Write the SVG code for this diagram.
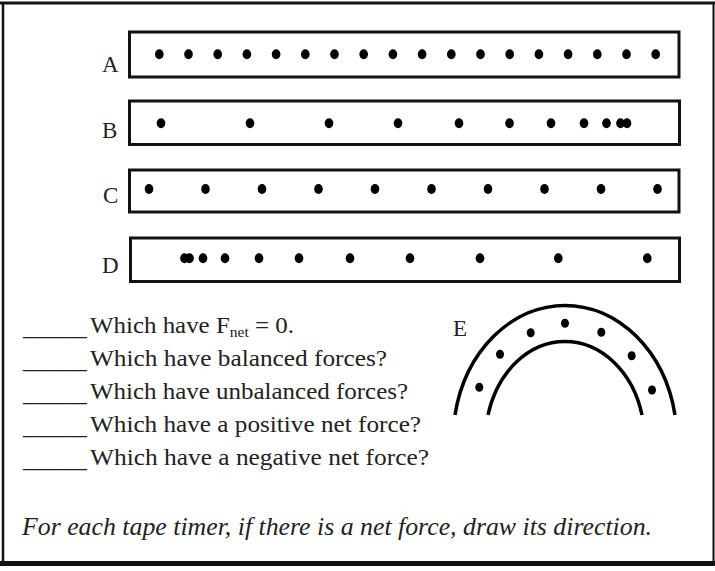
<svg xmlns="http://www.w3.org/2000/svg" width="715" height="571" viewBox="0 0 715 571">
<style>
  .frame { stroke: #111; fill: none; }
  .tape { fill: #fff; stroke: #111; stroke-width: 3; }
  .dot { fill: #000; }
  .lbl { font-family: "Liberation Serif", "Times New Roman", serif; font-size: 23px; fill: #222; }
  .q { font-family: "Liberation Serif", "Times New Roman", serif; font-size: 24px; fill: #222; }
  .note { font-family: "Liberation Serif", "Times New Roman", serif; font-size: 25px; font-style: italic; fill: #222; }
  .arch { fill: none; stroke: #000; stroke-width: 3.5; }
</style>
<rect x="0" y="0" width="715" height="571" fill="#fff"/>
<g id="frame">
  <line class="frame" x1="0" y1="3" x2="715" y2="3" stroke-width="3"/>
  <line class="frame" x1="3" y1="3" x2="3" y2="566" stroke-width="2.5"/>
  <line class="frame" x1="713.5" y1="3" x2="713.5" y2="566" stroke-width="2"/>
  <line class="frame" x1="0" y1="563.5" x2="715" y2="563.5" stroke-width="5"/>
</g>
<g id="tape-A">
  <text class="lbl" x="102" y="72">A</text>
  <rect class="tape" x="129.5" y="32" width="549.5" height="45"/>
  <g class="dot">
    <ellipse cx="159.3" cy="54.3" rx="4.3" ry="5"/><ellipse cx="188.5" cy="54.3" rx="4.3" ry="5"/>
    <ellipse cx="217.7" cy="54.3" rx="4.3" ry="5"/><ellipse cx="246.9" cy="54.3" rx="4.3" ry="5"/>
    <ellipse cx="276.1" cy="54.3" rx="4.3" ry="5"/><ellipse cx="305.3" cy="54.3" rx="4.3" ry="5"/>
    <ellipse cx="334.5" cy="54.3" rx="4.3" ry="5"/><ellipse cx="363.7" cy="54.3" rx="4.3" ry="5"/>
    <ellipse cx="392.9" cy="54.3" rx="4.3" ry="5"/><ellipse cx="422.1" cy="54.3" rx="4.3" ry="5"/>
    <ellipse cx="451.3" cy="54.3" rx="4.3" ry="5"/><ellipse cx="480.5" cy="54.3" rx="4.3" ry="5"/>
    <ellipse cx="509.7" cy="54.3" rx="4.3" ry="5"/><ellipse cx="538.9" cy="54.3" rx="4.3" ry="5"/>
    <ellipse cx="568.1" cy="54.3" rx="4.3" ry="5"/><ellipse cx="597.3" cy="54.3" rx="4.3" ry="5"/>
    <ellipse cx="626.5" cy="54.3" rx="4.3" ry="5"/><ellipse cx="655.7" cy="54.3" rx="4.3" ry="5"/>
  </g>
</g>
<g id="tape-B">
  <text class="lbl" x="102" y="137.5">B</text>
  <rect class="tape" x="129.5" y="101" width="550" height="43.5"/>
  <g class="dot">
    <ellipse cx="161" cy="123.3" rx="4.3" ry="5"/><ellipse cx="250" cy="123.3" rx="4.3" ry="5"/>
    <ellipse cx="329" cy="123.3" rx="4.3" ry="5"/><ellipse cx="398" cy="123.3" rx="4.3" ry="5"/>
    <ellipse cx="459" cy="123.3" rx="4.3" ry="5"/><ellipse cx="509.5" cy="123.3" rx="4.3" ry="5"/>
    <ellipse cx="551" cy="123.3" rx="4.3" ry="5"/><ellipse cx="584" cy="123.3" rx="4.3" ry="5"/>
    <ellipse cx="606.5" cy="123.3" rx="4.3" ry="5"/><ellipse cx="620.5" cy="123.3" rx="4.3" ry="5"/>
    <ellipse cx="627" cy="123.3" rx="4.3" ry="5"/>
  </g>
</g>
<g id="tape-C">
  <text class="lbl" x="103" y="202.5">C</text>
  <rect class="tape" x="129.5" y="170" width="549.5" height="42"/>
  <g class="dot">
    <ellipse cx="149" cy="189" rx="4.3" ry="5"/><ellipse cx="205.5" cy="189" rx="4.3" ry="5"/>
    <ellipse cx="262" cy="189" rx="4.3" ry="5"/><ellipse cx="318.5" cy="189" rx="4.3" ry="5"/>
    <ellipse cx="375" cy="189" rx="4.3" ry="5"/><ellipse cx="431.5" cy="189" rx="4.3" ry="5"/>
    <ellipse cx="488" cy="189" rx="4.3" ry="5"/><ellipse cx="544.5" cy="189" rx="4.3" ry="5"/>
    <ellipse cx="601" cy="189" rx="4.3" ry="5"/><ellipse cx="657.5" cy="189" rx="4.3" ry="5"/>
  </g>
</g>
<g id="tape-D">
  <text class="lbl" x="102" y="272.5">D</text>
  <rect class="tape" x="130.5" y="238" width="549" height="43.5"/>
  <g class="dot">
    <ellipse cx="184.5" cy="258.3" rx="4.3" ry="5"/><ellipse cx="189.5" cy="258.3" rx="4.3" ry="5"/>
    <ellipse cx="203" cy="258.3" rx="4.3" ry="5"/><ellipse cx="225" cy="258.3" rx="4.3" ry="5"/>
    <ellipse cx="259" cy="258.3" rx="4.3" ry="5"/><ellipse cx="299" cy="258.3" rx="4.3" ry="5"/>
    <ellipse cx="350" cy="258.3" rx="4.3" ry="5"/><ellipse cx="410" cy="258.3" rx="4.3" ry="5"/>
    <ellipse cx="480" cy="258.3" rx="4.3" ry="5"/><ellipse cx="558.3" cy="258.3" rx="4.3" ry="5"/>
    <ellipse cx="647.3" cy="258.3" rx="4.3" ry="5"/>
  </g>
</g>
<g id="questions">
  <text class="q" x="23" y="335" textLength="64" lengthAdjust="spacingAndGlyphs">______</text>
  <text class="q" x="90" y="333" textLength="204" lengthAdjust="spacingAndGlyphs">Which have F<tspan font-size="15" dy="4">net</tspan><tspan dy="-4"> = 0.</tspan></text>
  <text class="q" x="23" y="368" textLength="64" lengthAdjust="spacingAndGlyphs">______</text>
  <text class="q" x="90" y="366" textLength="297" lengthAdjust="spacingAndGlyphs">Which have balanced forces?</text>
  <text class="q" x="23" y="401" textLength="64" lengthAdjust="spacingAndGlyphs">______</text>
  <text class="q" x="90" y="399" textLength="318" lengthAdjust="spacingAndGlyphs">Which have unbalanced forces?</text>
  <text class="q" x="23" y="434" textLength="64" lengthAdjust="spacingAndGlyphs">______</text>
  <text class="q" x="90" y="432" textLength="331" lengthAdjust="spacingAndGlyphs">Which have a positive net force?</text>
  <text class="q" x="23" y="467" textLength="64" lengthAdjust="spacingAndGlyphs">______</text>
  <text class="q" x="90" y="465" textLength="339" lengthAdjust="spacingAndGlyphs">Which have a negative net force?</text>
</g>
<g id="tape-E">
  <text class="lbl" x="453" y="336">E</text>
  <path class="arch" d="M455,415 A112,135 0 0 1 675,415"/>
  <path class="arch" d="M488,415 A79.6,98.3 0 0 1 642,415"/>
  <g class="dot">
    <ellipse cx="479.3" cy="387.3" rx="4" ry="4.5"/><ellipse cx="500" cy="354.3" rx="4" ry="4.5"/>
    <ellipse cx="530.7" cy="332.7" rx="4" ry="4.5"/><ellipse cx="565" cy="323.3" rx="4" ry="4.5"/>
    <ellipse cx="601.3" cy="332.3" rx="4" ry="4.5"/><ellipse cx="631.7" cy="355.7" rx="4" ry="4.5"/>
    <ellipse cx="652" cy="390" rx="4" ry="4.5"/>
  </g>
</g>
<g id="instruction">
  <text class="note" x="22" y="535" textLength="630" lengthAdjust="spacingAndGlyphs">For each tape timer, if there is a net force, draw its direction.</text>
</g>
<g id="connectors"></g>
</svg>
